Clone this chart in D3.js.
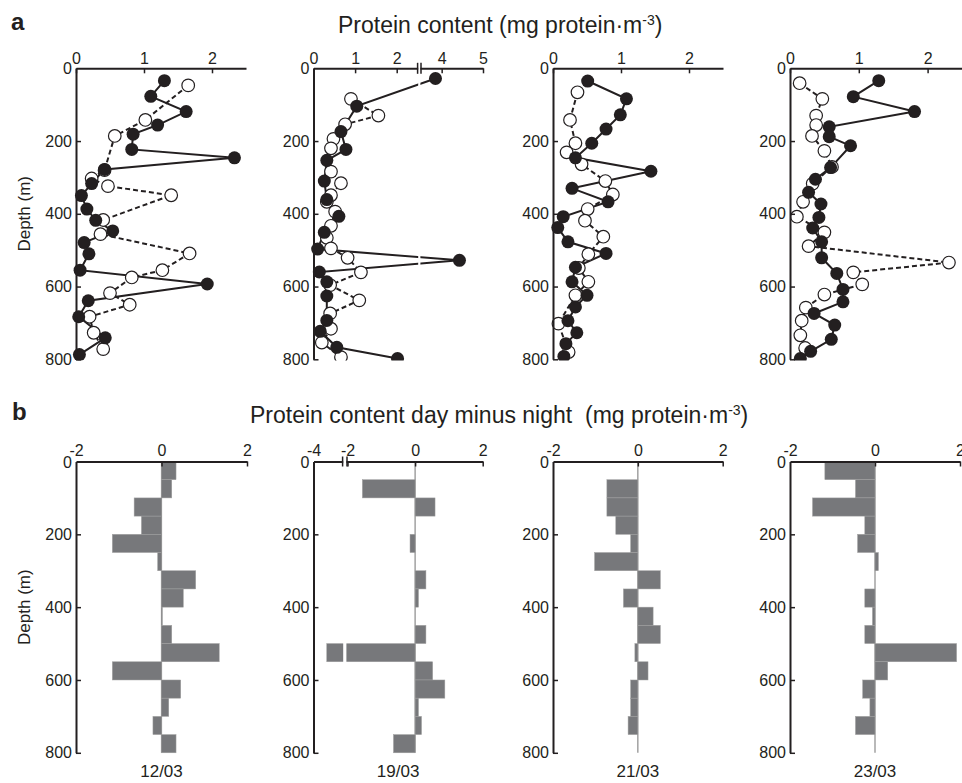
<!DOCTYPE html>
<html><head><meta charset="utf-8">
<script src="https://cdn.jsdelivr.net/npm/d3@7"></script>
<style>
body{margin:0;background:#fff}
svg{display:block}
text{font-family:"Liberation Sans",Arial,Helvetica,sans-serif;fill:#231f20}
</style>
</head><body>
<svg id="c" width="962" height="783"></svg>
<script>
// ---------- DATA ----------
const dates = ["12/03", "19/03", "21/03", "23/03"];
const depthTicks = [0, 200, 400, 600, 800];
const topTicks = [0, 1, 2];
const topTicksBroken = [0, 1, 2, 4, 5];
const bottomTicks = [-2, 0, 2];
const bottomTicksBroken = [-4, -2, 0, 2];
const binTop = [0, 50, 100, 150, 200, 250, 300, 350, 400, 450, 500, 550, 600, 650, 700, 750];

// panel a: filled circles (solid line) and open circles (dashed line)
const solidDepth1203 = [34, 77, 119, 156, 181, 223, 246, 278, 317, 350, 387, 418, 447, 479, 510, 555, 593, 639, 683, 741, 787];
const solidValue1203 = [1.30, 1.10, 1.62, 1.20, 0.84, 0.82, 2.33, 0.42, 0.23, 0.08, 0.16, 0.29, 0.54, 0.12, 0.19, 0.06, 1.93, 0.18, 0.04, 0.43, 0.05];
const openDepth1203 = [47, 142, 186, 280, 303, 324, 349, 417, 456, 509, 555, 575, 618, 650, 683, 727, 772];
const openValue1203 = [1.65, 1.02, 0.57, 0.42, 0.23, 0.47, 1.40, 0.40, 0.36, 1.67, 1.27, 0.82, 0.50, 0.79, 0.20, 0.26, 0.40];

const solidDepth1903 = [28, 104, 174, 223, 253, 310, 361, 407, 451, 497, 528, 560, 587, 626, 693, 723, 767, 798];
const solidValue1903 = [3.85, 1.04, 0.66, 0.78, 0.32, 0.26, 0.32, 0.61, 0.26, 0.10, 4.43, 0.14, 0.32, 0.32, 0.32, 0.16, 0.56, 2.02];
const openDepth1903 = [84, 130, 154, 194, 220, 284, 316, 349, 367, 394, 433, 466, 495, 521, 561, 596, 638, 674, 716, 754, 794];
const openValue1903 = [0.90, 1.56, 0.76, 0.48, 0.42, 0.42, 0.66, 0.42, 0.32, 0.52, 0.42, 0.32, 0.42, 0.82, 1.14, 0.40, 1.10, 0.40, 0.42, 0.20, 0.66];

const solidDepth2103 = [35, 84, 128, 167, 206, 246, 283, 330, 367, 408, 438, 477, 509, 547, 587, 624, 656, 694, 727, 757, 792];
const solidValue2103 = [0.51, 1.08, 0.99, 0.78, 0.57, 0.33, 1.44, 0.28, 0.81, 0.15, 0.07, 0.22, 0.78, 0.33, 0.28, 0.50, 0.33, 0.22, 0.35, 0.19, 0.16];
const openDepth2103 = [66, 142, 206, 231, 264, 310, 347, 387, 419, 463, 511, 549, 587, 624, 702, 780];
const openValue2103 = [0.36, 0.25, 0.33, 0.20, 0.42, 0.77, 0.88, 0.51, 0.47, 0.74, 0.52, 0.38, 0.52, 0.33, 0.08, 0.23];

const solidDepth2303 = [34, 78, 119, 161, 188, 213, 273, 305, 341, 373, 410, 439, 477, 521, 564, 608, 642, 674, 706, 745, 778, 798];
const solidValue2303 = [1.29, 0.92, 1.81, 0.57, 0.57, 0.88, 0.59, 0.37, 0.27, 0.45, 0.42, 0.33, 0.46, 0.46, 0.68, 0.77, 0.77, 0.35, 0.65, 0.60, 0.30, 0.15];
const openDepth2303 = [41, 84, 130, 156, 186, 227, 271, 317, 367, 408, 451, 489, 534, 561, 594, 622, 658, 694, 734, 769];
const openValue2303 = [0.14, 0.47, 0.38, 0.38, 0.32, 0.50, 0.61, 0.33, 0.19, 0.10, 0.50, 0.27, 2.31, 0.92, 1.05, 0.50, 0.23, 0.17, 0.15, 0.22];

// panel b: day minus night, 50 m bins
const diff1203 = [0.34, 0.24, -0.64, -0.47, -1.15, -0.09, 0.80, 0.51, 0.02, 0.24, 1.35, -1.15, 0.45, 0.17, -0.20, 0.34];
const diff1903 = [0, -1.56, 0.59, 0, -0.15, 0, 0.32, 0.10, 0, 0.32, -3.22, 0.52, 0.88, 0.10, 0.19, -0.64];
const diff2103 = [0, -0.73, -0.73, -0.52, -0.17, -1.02, 0.53, -0.34, 0.36, 0.53, -0.07, 0.24, -0.17, -0.17, -0.23, 0];
const diff2303 = [-1.18, -0.46, -1.47, -0.24, -0.41, 0.08, 0, -0.24, -0.06, -0.24, 1.92, 0.30, -0.29, -0.12, -0.46, 0];

// ---------- LAYOUT ----------
const INK = "#231f20";
const BAR = "#77787b";
const svg = d3.select("#c");
const fmt = d => String(d);

const panels = [
  {date: dates[0], sD: solidDepth1203, sV: solidValue1203, oD: openDepth1203, oV: openValue1203, diff: diff1203,
   xTop: d3.scaleLinear().domain([0, 2.5]).range([76, 246]), topT: topTicks,
   xBot: d3.scaleLinear().domain([-2, 2]).range([76, 247]), botT: bottomTicks},
  {date: dates[1], sD: solidDepth1903, sV: solidValue1903, oD: openDepth1903, oV: openValue1903, diff: diff1903,
   xTop: d3.scaleLinear().domain([0, 2.5, 3.5, 5]).range([313.5, 417.5, 421, 483]), topT: topTicksBroken, topBreak: [417.6, 421],
   xBot: d3.scaleLinear().domain([-4, -2, 2]).range([313.5, 347.5, 482.7]), botT: bottomTicksBroken, botBreak: [342.6, 347]},
  {date: dates[2], sD: solidDepth2103, sV: solidValue2103, oD: openDepth2103, oV: openValue2103, diff: diff2103,
   xTop: d3.scaleLinear().domain([0, 2.5]).range([553, 723]), topT: topTicks,
   xBot: d3.scaleLinear().domain([-2, 2]).range([553, 722.7]), botT: bottomTicks},
  {date: dates[3], sD: solidDepth2303, sV: solidValue2303, oD: openDepth2303, oV: openValue2303, diff: diff2303,
   xTop: d3.scaleLinear().domain([0, 2.5]).range([790, 962]), topT: topTicks,
   xBot: d3.scaleLinear().domain([-2, 2]).range([790, 960]), botT: bottomTicks}
];

const yTop = d3.scaleLinear().domain([0, 800]).range([68.3, 359.3]);
const yBot = d3.scaleLinear().domain([0, 800]).range([461.5, 752.8]);

svg.append("defs").append("clipPath").attr("id", "clipTop")
  .append("rect").attr("x", 0).attr("y", 0).attr("width", 962).attr("height", 360.5);

function styleAxis(g) {
  g.select(".domain").attr("stroke", INK).attr("stroke-width", 2);
  g.selectAll(".tick line").attr("stroke", INK).attr("stroke-width", 1.5);
  g.selectAll(".tick text").attr("fill", INK).style("font-size", "16px")
    .style("font-family", '"Liberation Sans",Arial,sans-serif');
}

// headings
svg.append("text").attr("x", 11).attr("y", 30).style("font-size", "24px").style("font-weight", "bold").text("a");
svg.append("text").attr("x", 12).attr("y", 420).style("font-size", "24px").style("font-weight", "bold").text("b");

function unitTitle(x, y, main) {
  const t = svg.append("text").attr("x", x).attr("y", y).style("font-size", "23px").style("white-space", "pre");
  t.append("tspan").text(main + "(mg protein\u00b7m");
  t.append("tspan").attr("dy", -8).style("font-size", "14px").text("-3");
  t.append("tspan").attr("dy", 8).text(")");
}
unitTitle(338, 33, "Protein content ");
unitTitle(250, 423, "Protein content day minus night  ");

[yTop, yBot].forEach((y) => {
  const cy = (y.range()[0] + y.range()[1]) / 2;
  svg.append("text").attr("transform", `translate(30,${cy}) rotate(-90)`)
    .attr("text-anchor", "middle").style("font-size", "17px").text("Depth (m)");
});

const lineGen = (x, y) => d3.line().x(d => x(d[1])).y(d => y(d[0]));

panels.forEach((p) => {
  // ---------- top (a) ----------
  const x = p.xTop;
  const x0 = x.range()[0];
  const gT = svg.append("g");
  const plot = gT.append("g").attr("clip-path", "url(#clipTop)");
  const solid = p.sD.map((d, k) => [d, p.sV[k]]);
  const open = p.oD.map((d, k) => [d, p.oV[k]]);
  plot.append("path").datum(open).attr("d", lineGen(x, yTop))
    .attr("fill", "none").attr("stroke", INK).attr("stroke-width", 2).attr("stroke-dasharray", "5,3");
  plot.append("path").datum(solid).attr("d", lineGen(x, yTop))
    .attr("fill", "none").attr("stroke", INK).attr("stroke-width", 2);
  plot.selectAll("circle.o").data(open).join("circle").attr("class", "o")
    .attr("cx", d => x(d[1])).attr("cy", d => yTop(d[0])).attr("r", 6.3)
    .attr("fill", "#fff").attr("stroke", INK).attr("stroke-width", 1.2);
  plot.selectAll("circle.s").data(solid).join("circle").attr("class", "s")
    .attr("cx", d => x(d[1])).attr("cy", d => yTop(d[0])).attr("r", 6.5)
    .attr("fill", INK);

  const ax = gT.append("g").attr("transform", `translate(0,${yTop(0)})`)
    .call(d3.axisTop(x).tickValues(p.topT).tickFormat(fmt).tickSize(-5).tickSizeOuter(0).tickPadding(4));
  styleAxis(ax);
  const ay = gT.append("g").attr("transform", `translate(${x0},0)`)
    .call(d3.axisLeft(yTop).tickValues(depthTicks).tickSize(-5).tickSizeOuter(0).tickPadding(4));
  styleAxis(ay);
  ay.selectAll(".tick").filter(d => d === 0).select("line").remove();

  if (p.topBreak) {
    const [b0, b1] = p.topBreak;
    gT.append("rect").attr("x", b0 + 0.6).attr("y", 60).attr("width", b1 - b0 - 1.2).attr("height", 302).attr("fill", "#fff");
    [b0, b1].forEach(bx => gT.append("line").attr("x1", bx).attr("x2", bx)
      .attr("y1", yTop(0) - 5.5).attr("y2", yTop(0) + 5.5).attr("stroke", INK).attr("stroke-width", 1.5));
  }

  // ---------- bottom (b) ----------
  const xb = p.xBot;
  const xb0 = xb.range()[0];
  const gB = svg.append("g");
  gB.append("line").attr("x1", xb(0)).attr("x2", xb(0)).attr("y1", yBot(0)).attr("y2", yBot(800))
    .attr("stroke", "#8a8a8a").attr("stroke-width", 1.2);
  gB.selectAll("rect.bar").data(p.diff.map((v, k) => [binTop[k], v])).join("rect").attr("class", "bar")
    .attr("x", d => xb(Math.min(0, d[1]))).attr("width", d => Math.abs(xb(d[1]) - xb(0)))
    .attr("y", d => yBot(d[0])).attr("height", d => yBot(d[0] + 50) - yBot(d[0]))
    .attr("fill", BAR).attr("stroke", "#a0a0a0").attr("stroke-width", 0.5);

  const bx = gB.append("g").attr("transform", `translate(0,${yBot(0)})`)
    .call(d3.axisTop(xb).tickValues(p.botT).tickFormat(fmt).tickSize(-5).tickSizeOuter(0).tickPadding(6));
  styleAxis(bx);
  bx.selectAll(".tick").filter(d => d === p.botT[0]).select("line").remove();
  const by = gB.append("g").attr("transform", `translate(${xb0},0)`)
    .call(d3.axisLeft(yBot).tickValues(depthTicks).tickSize(-5).tickSizeOuter(0).tickPadding(4));
  styleAxis(by);
  by.selectAll(".tick").filter(d => d === 0).select("line").remove();
  by.selectAll(".tick").filter(d => d === 0).select("text").attr("y", 1);

  if (p.botBreak) {
    const [b0, b1] = p.botBreak;
    gB.append("rect").attr("x", b0 + 0.6).attr("y", yBot(0) - 4).attr("width", b1 - b0 - 1.2).attr("height", yBot(800) - yBot(0) + 6).attr("fill", "#fff");
    [b0, b1].forEach(bxx => gB.append("line").attr("x1", bxx).attr("x2", bxx)
      .attr("y1", yBot(0) - 5).attr("y2", yBot(0) + 5).attr("stroke", INK).attr("stroke-width", 1.5));
  }

  const r = xb.range();
  svg.append("text").attr("x", (r[0] + r[r.length - 1]) / 2).attr("y", 776.5)
    .attr("text-anchor", "middle").style("font-size", "17px").text(p.date);
});
</script>
</body></html>
